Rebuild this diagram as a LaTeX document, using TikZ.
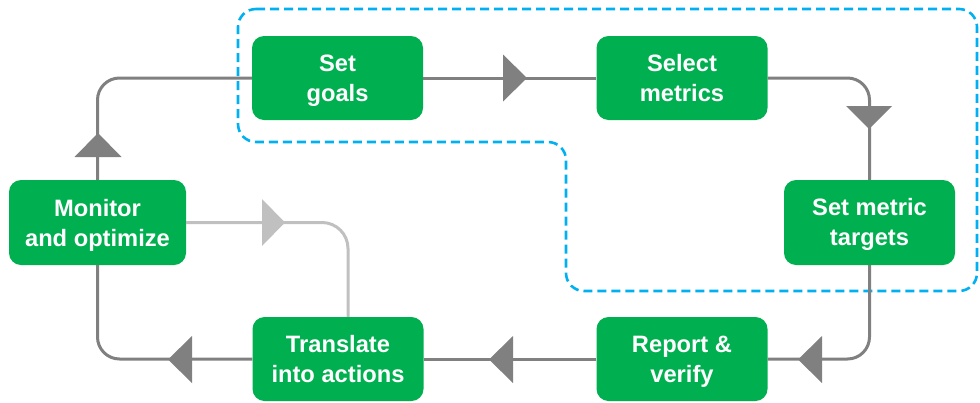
\documentclass[tikz,border=0pt]{standalone}
\usepackage{fontspec}
\setmainfont{Liberation Sans}
\definecolor{boxgreen}{HTML}{00B050}
\definecolor{linedark}{HTML}{808080}
\definecolor{linelight}{HTML}{C0C0C0}
\definecolor{groupblue}{HTML}{00B0F0}
\newcommand\mytopst{\rule{0pt}{22pt}}
\newcommand\mybotst{\rule[-5pt]{0pt}{5pt}}
\begin{document}
\begin{tikzpicture}[x=1pt,y=-1pt,
  stepbox/.style={fill=boxgreen, rounded corners=12pt, text=white,
    font=\fontsize{23.7}{30}\selectfont\bfseries, align=center, inner sep=0pt,
    minimum width=171pt, minimum height=84pt},
  darkline/.style={draw=linedark, line width=3pt},
  lightline/.style={draw=linelight, line width=3pt},
  darktri/.style={fill=linedark},
  lighttri/.style={fill=linelight},
  groupline/.style={draw=groupblue, line width=2.6pt, dash pattern=on 9pt off 5pt, rounded corners=18pt}]
\useasboundingbox (0,0) rectangle (980,402);

% group outline
\draw[groupline] (238,9) -- (977,9) -- (977,291) -- (566,291) -- (566,142) -- (238,142) -- cycle;

% nodes
\node[stepbox] (goals) at (337.5,78) {\mytopst Set\\goals\mybotst};
\node[stepbox] (metrics) at (682,78) {\mytopst Select\\metrics\mybotst};
\node[stepbox, minimum height=85pt] (targets) at (869.5,222.5) {\mytopst Set metric\\targets\mybotst};
\node[stepbox] (report) at (682,359) {\mytopst Report \&\\verify\mybotst};
\node[stepbox] (translate) at (338,359) {\mytopst Translate\\into actions\mybotst};
\node[stepbox, minimum width=177pt, minimum height=85pt] (monitor) at (97.5,222.5) {\mytopst Monitor\\and optimize\mybotst};

% connectors
\draw[darkline] (goals.east) -- (metrics.west);
\draw[darkline, rounded corners=22pt] (metrics.east) -| (targets.north);
\draw[darkline, rounded corners=22pt] (targets.south) |- (report.east);
\draw[darkline] (report.west) -- (translate.east);
\draw[darkline, rounded corners=22pt] (translate.west) -| (monitor.south);
\draw[darkline, rounded corners=22pt] (monitor.north) |- (goals.west);
\draw[lightline, rounded corners=26pt] (monitor.east) -| ([xshift=10pt]translate.north);

% arrow triangles
\fill[darktri] (503,54.5) -- (527,78) -- (503,101.5) -- cycle;
\fill[darktri] (846,106) -- (892,106) -- (869,129) -- cycle;
\fill[darktri] (822,336) -- (798,359.5) -- (822,383) -- cycle;
\fill[darktri] (513,336) -- (489,359.5) -- (513,383) -- cycle;
\fill[darktri] (192,336) -- (168,359.5) -- (192,383) -- cycle;
\fill[darktri] (74.5,157) -- (98,133) -- (121.5,157) -- cycle;
\fill[lighttri] (262,199) -- (285,222.5) -- (262,246) -- cycle;
\end{tikzpicture}
\end{document}
